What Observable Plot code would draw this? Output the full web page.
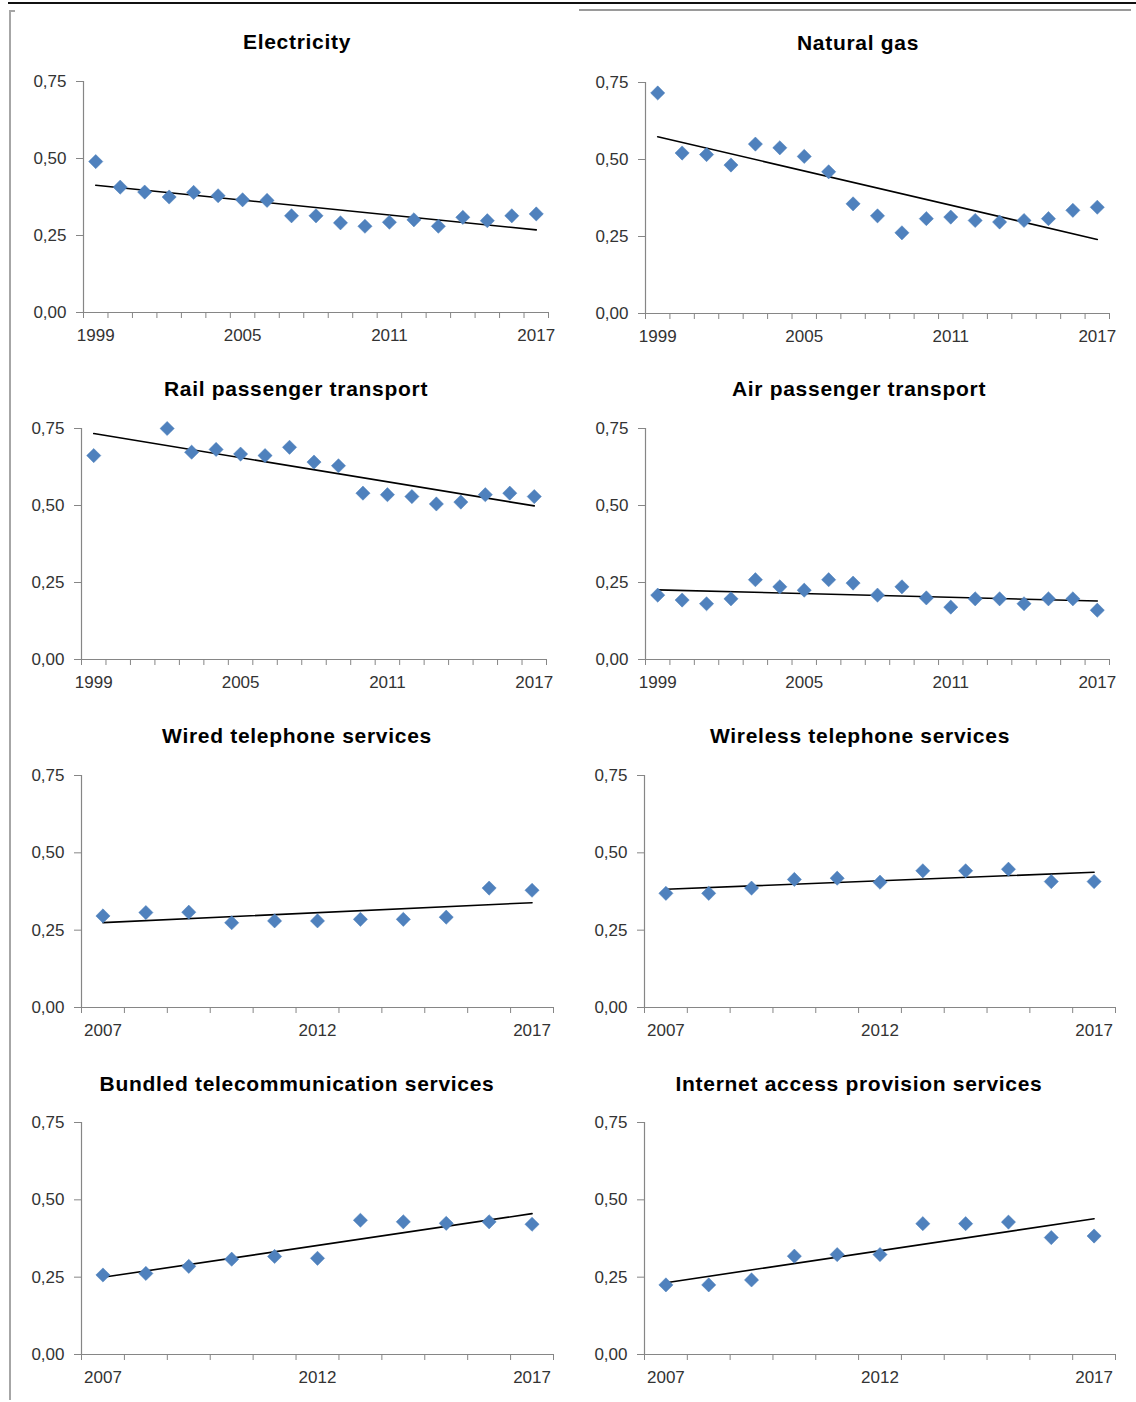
<!DOCTYPE html>
<html>
<head>
<meta charset="utf-8">
<script src="https://cdn.jsdelivr.net/npm/d3@7"></script>
<script src="https://cdn.jsdelivr.net/npm/@observablehq/plot@0.6"></script>
<style>
  html, body { margin: 0; padding: 0; background: #fff; }
  #page { position: relative; width: 1136px; height: 1402px; overflow: hidden; background: #fff; }
  .title { position: absolute; width: 600px; text-align: center; font-family: "Liberation Sans", Arial, sans-serif; font-weight: bold; font-size: 21px; letter-spacing: 0.7px; line-height: 24px; color: #000; white-space: nowrap; }
  .panel { position: absolute; }
  .deco { position: absolute; }
</style>
</head>
<body>
<div id="page"></div>
<script>
// ---------- Data ----------
const yearsLong = [1999, 2000, 2001, 2002, 2003, 2004, 2005, 2006, 2007, 2008, 2009, 2010, 2011, 2012, 2013, 2014, 2015, 2016, 2017];
const yearsRail = [1999, 2002, 2003, 2004, 2005, 2006, 2007, 2008, 2009, 2010, 2011, 2012, 2013, 2014, 2015, 2016, 2017];
const yearsShort = [2007, 2008, 2009, 2010, 2011, 2012, 2013, 2014, 2015, 2016, 2017];

const electricity = [0.490, 0.407, 0.391, 0.375, 0.390, 0.379, 0.366, 0.364, 0.314, 0.314, 0.291, 0.280, 0.293, 0.301, 0.280, 0.309, 0.298, 0.314, 0.320];
const naturalGas = [0.716, 0.521, 0.516, 0.482, 0.550, 0.538, 0.510, 0.460, 0.356, 0.317, 0.262, 0.308, 0.313, 0.302, 0.297, 0.302, 0.308, 0.335, 0.345];
const railPassenger = [0.662, 0.750, 0.673, 0.682, 0.667, 0.662, 0.689, 0.641, 0.629, 0.540, 0.535, 0.529, 0.505, 0.511, 0.535, 0.540, 0.529];
const airPassenger = [0.209, 0.193, 0.181, 0.197, 0.259, 0.236, 0.225, 0.259, 0.248, 0.209, 0.236, 0.200, 0.170, 0.197, 0.197, 0.181, 0.197, 0.197, 0.160];
const wiredPhone = [0.296, 0.307, 0.308, 0.274, 0.280, 0.280, 0.285, 0.285, 0.292, 0.386, 0.379];
const wirelessPhone = [0.369, 0.369, 0.386, 0.414, 0.418, 0.405, 0.442, 0.442, 0.447, 0.407, 0.407];
const bundledTelecom = [0.257, 0.262, 0.285, 0.308, 0.317, 0.311, 0.434, 0.429, 0.424, 0.429, 0.421];
const internetAccess = [0.225, 0.225, 0.241, 0.318, 0.323, 0.323, 0.423, 0.423, 0.428, 0.378, 0.383];

const titles = ["Electricity", "Natural gas", "Rail passenger transport", "Air passenger transport",
  "Wired telephone services", "Wireless telephone services", "Bundled telecommunication services", "Internet access provision services"];

const yTicks = [0, 0.25, 0.50, 0.75];
const xLabelsLong = [1999, 2005, 2011, 2017];
const xLabelsShort = [2007, 2012, 2017];

// ---------- Layout ----------
const panels = [
  {title: titles[0], years: yearsLong, values: electricity, first: 1999, last: 2017, labels: xLabelsLong, ax0: 83, ax1: 548, y75: 81, y0: 312, tx: 297, ty: 42},
  {title: titles[1], years: yearsLong, values: naturalGas, first: 1999, last: 2017, labels: xLabelsLong, ax0: 645, ax1: 1109, y75: 82, y0: 313, tx: 858, ty: 43},
  {title: titles[2], years: yearsRail, values: railPassenger, first: 1999, last: 2017, labels: xLabelsLong, ax0: 81, ax1: 546, y75: 428, y0: 659, tx: 296, ty: 389},
  {title: titles[3], years: yearsLong, values: airPassenger, first: 1999, last: 2017, labels: xLabelsLong, ax0: 645, ax1: 1109, y75: 428, y0: 659, tx: 859, ty: 389},
  {title: titles[4], years: yearsShort, values: wiredPhone, first: 2007, last: 2017, labels: xLabelsShort, ax0: 81, ax1: 553, y75: 775, y0: 1007, tx: 297, ty: 736},
  {title: titles[5], years: yearsShort, values: wirelessPhone, first: 2007, last: 2017, labels: xLabelsShort, ax0: 644, ax1: 1115, y75: 775, y0: 1007, tx: 860, ty: 736},
  {title: titles[6], years: yearsShort, values: bundledTelecom, first: 2007, last: 2017, labels: xLabelsShort, ax0: 81, ax1: 553, y75: 1122, y0: 1354, tx: 297, ty: 1084},
  {title: titles[7], years: yearsShort, values: internetAccess, first: 2007, last: 2017, labels: xLabelsShort, ax0: 644, ax1: 1115, y75: 1122, y0: 1354, tx: 859, ty: 1084}
];

const page = document.getElementById("page");

function deco(left, top, width, height, color) {
  const d = document.createElement("div");
  d.className = "deco";
  Object.assign(d.style, {left: left + "px", top: top + "px", width: width + "px", height: height + "px", background: color});
  page.appendChild(d);
}
deco(8, 2, 1128, 2, "#111");
deco(579, 9, 552, 2, "#9a9a9a");
deco(9, 10, 2, 1390, "#a6a6a6");
deco(9, 10, 6, 2, "#a6a6a6");

const fmtY = d => d.toFixed(2).replace(".", ",");
const axisColor = "#868686";
const ML = 75, MR = 25, MT = 15, MB = 45;

for (const p of panels) {
  const data = p.years.map((yr, i) => ({year: yr, value: p.values[i]}));
  const bounds = [];
  for (let b = p.first - 0.5; b <= p.last + 0.5; b += 1) bounds.push(b);
  const innerW = p.ax1 - p.ax0;
  const innerH = p.y0 - p.y75;

  const chart = Plot.plot({
    width: innerW + ML + MR,
    height: innerH + MT + MB,
    marginLeft: ML, marginRight: MR, marginTop: MT, marginBottom: MB,
    x: {type: "linear", domain: [p.first - 0.5, p.last + 0.5]},
    y: {domain: [0, 0.75]},
    style: {fontFamily: "'Liberation Sans', Arial, sans-serif", fontSize: "17px", color: "#333", background: "transparent", overflow: "visible"},
    marks: [
      Plot.ruleY([0], {stroke: axisColor, strokeWidth: 1.2}),
      Plot.ruleX([p.first - 0.5], {stroke: axisColor, strokeWidth: 1.2}),
      Plot.axisY({ticks: yTicks, tickFormat: fmtY, tickSize: 7, tickPadding: 10, stroke: axisColor, fill: "#333", label: null}),
      Plot.axisX({ticks: bounds, tickFormat: () => "", tickSize: 6, stroke: axisColor, label: null}),
      Plot.axisX({ticks: p.labels, tickFormat: d => String(d), tickSize: 0, tickPadding: 16, fill: "#333", label: null}),
      Plot.linearRegressionY(data, {x: "year", y: "value", stroke: "#000", strokeWidth: 1.6, ci: 0}),
      Plot.dot(data, {x: "year", y: "value", symbol: "diamond2", r: 6.4, fill: "#4F81BD", stroke: "#4A7EBB", strokeWidth: 0.5})
    ]
  });
  chart.classList.add("panel");
  chart.style.left = (p.ax0 - ML) + "px";
  chart.style.top = (p.y75 - MT) + "px";
  page.appendChild(chart);

  const t = document.createElement("div");
  t.className = "title";
  t.textContent = p.title;
  t.style.left = (p.tx - 300) + "px";
  t.style.top = (p.ty - 12) + "px";
  page.appendChild(t);
}
</script>
</body>
</html>
